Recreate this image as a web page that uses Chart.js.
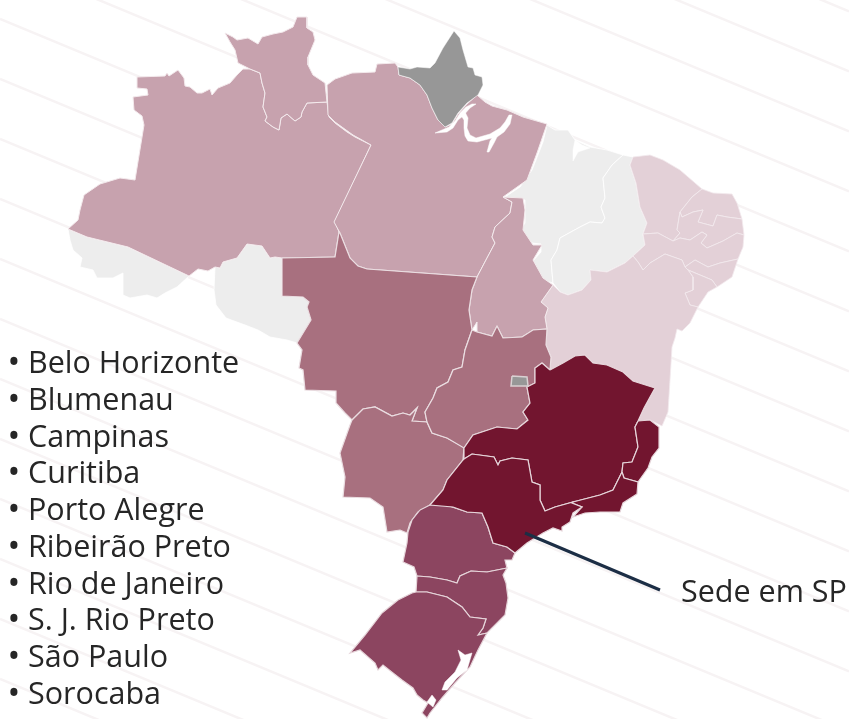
<!DOCTYPE html>
<html lang="pt-BR">
<head>
<meta charset="utf-8">
<title>Sede em SP</title>
<script src="https://cdn.jsdelivr.net/npm/chart.js@4"></script>
<style>
  html, body { margin: 0; padding: 0; background: #fff; }
  #wrap { position: relative; width: 849px; height: 719px; overflow: hidden; }
  #map { position: absolute; left: 0; top: 0; }
  #cities {
    position: absolute; left: 0; top: 343px; margin: 0; padding: 0 0 0 28px; list-style: none;
    font: 30.5px/36.75px "Open Sans", sans-serif; color: #262626;
  }
  #cities li { position: relative; white-space: nowrap; }
  #cities li::before { content: "•"; position: absolute; left: -20.5px; font-size: 34px; }
  #sede {
    position: absolute; left: 681px; top: 571px;
    font: 30.5px/38px "Open Sans", sans-serif; color: #262626; white-space: nowrap;
  }
</style>
</head>
<body>
<div id="wrap">
  <canvas id="map" width="849" height="719"></canvas>
  <ul id="cities"></ul>
  <div id="sede"></div>
</div>
<script>
// city list and callout
const cities = ['Belo Horizonte', 'Blumenau', 'Campinas', 'Curitiba', 'Porto Alegre',
  'Ribeirão Preto', 'Rio de Janeiro', 'S. J. Rio Preto', 'São Paulo', 'Sorocaba'];
const calloutLabel = 'Sede em SP';

// state outlines
const amazonas = [[137,77],[165,76],[167,73],[169,76],[178,70],[184,78],[185,86],[190,87],[197,93],[202,93],[210,89],[212,95],[218,88],[230,83],[237,75],[243,69],[250,69],[260,73],[262,83],[265,93],[263,107],[267,117],[265,121],[273,127],[279,130],[281,118],[287,114],[295,121],[301,117],[302,112],[307,103],[327,102],[329,117],[335,123],[347,132],[355,137],[371,145],[335,221],[339,232],[335,257],[282,258],[275,257],[270,258],[262,246],[247,244],[237,258],[223,262],[220,268],[215,267],[208,271],[198,269],[189,276],[128,247],[87,237],[68,229],[78,220],[80,210],[84,195],[100,184],[120,178],[135,180],[144,125],[142,116],[134,110],[133,97],[148,95],[147,89],[137,88]];
const roraima = [[225,33],[233,37],[237,40],[248,38],[258,44],[262,37],[273,34],[283,32],[293,27],[297,17],[307,17],[307,28],[313,32],[315,40],[308,57],[308,65],[313,75],[325,83],[327,102],[307,103],[302,112],[301,117],[295,121],[287,114],[281,118],[279,130],[273,127],[265,121],[267,117],[263,107],[265,93],[262,83],[260,73],[250,69],[238,63],[235,50],[230,42]];
const para = [[327,85],[335,79],[352,73],[375,72],[377,64],[395,63],[398,67],[399,75],[410,78],[420,85],[427,95],[432,108],[438,120],[445,127],[452,124],[458,114],[467,104],[477,95],[485,102],[492,106],[507,110],[523,117],[547,124],[537,153],[527,180],[503,197],[512,202],[510,213],[495,227],[492,237],[495,243],[487,258],[477,277],[367,269],[358,266],[350,258],[340,233],[334,222],[371,145],[353,135],[335,122],[328,115]];
const amapa = [[398,67],[410,69],[417,67],[430,68],[435,63],[443,48],[454,31],[460,38],[463,50],[468,67],[473,68],[475,75],[482,77],[483,85],[478,95],[467,103],[458,113],[452,123],[445,127],[438,120],[432,108],[427,95],[420,85],[410,78],[399,75]];
const tocantins = [[503,197],[523,198],[525,210],[523,230],[533,245],[542,245],[533,260],[543,278],[553,285],[541,302],[548,308],[545,317],[547,329],[533,330],[522,337],[503,338],[497,326],[492,336],[477,332],[477,322],[472,330],[469,310],[472,290],[477,277],[487,258],[495,243],[492,237],[495,227],[510,213],[512,202]];
const acre = [[68,229],[87,237],[128,247],[189,276],[177,287],[165,293],[157,298],[147,295],[130,298],[123,295],[123,273],[113,278],[97,278],[93,270],[80,267],[82,258],[73,250],[70,240]];
const rondonia = [[223,262],[237,258],[247,244],[262,246],[270,258],[275,257],[282,258],[282,296],[303,297],[309,302],[307,307],[311,320],[297,343],[287,340],[270,337],[258,330],[245,325],[226,318],[216,305],[214,290],[215,267],[220,268]];
const maranhao = [[547,125],[555,130],[568,130],[575,140],[590,147],[607,150],[623,155],[612,165],[603,178],[605,198],[601,207],[605,218],[602,223],[590,222],[580,227],[560,238],[557,250],[551,260],[553,283],[542,280],[538,272],[532,262],[541,252],[541,244],[532,243],[520,230],[525,223],[525,200],[505,197],[520,187],[532,170],[543,142]];
const piaui = [[623,155],[633,157],[630,165],[636,183],[640,207],[647,223],[643,234],[645,245],[633,256],[625,263],[607,272],[590,270],[591,280],[582,290],[568,295],[560,292],[553,283],[551,260],[557,250],[560,238],[580,227],[590,222],[602,223],[605,218],[601,207],[605,198],[603,178],[612,165]];
const ceara = [[633,157],[650,155],[663,160],[680,170],[702,189],[692,197],[680,212],[677,230],[680,233],[673,241],[658,233],[643,234],[647,223],[640,207],[636,183],[630,165]];
const rioGrandeNorte = [[702,189],[713,193],[732,194],[737,203],[742,219],[727,217],[717,215],[713,226],[698,222],[703,210],[693,212],[682,217],[680,212],[692,197]];
const paraiba = [[742,219],[744,235],[737,233],[723,241],[707,248],[701,243],[707,235],[702,232],[690,240],[680,238],[673,241],[680,233],[677,230],[680,212],[682,217],[693,212],[703,210],[698,222],[713,226],[717,215],[727,217]];
const pernambuco = [[643,234],[658,233],[673,241],[680,238],[690,240],[702,232],[707,235],[701,243],[707,248],[723,241],[737,233],[744,235],[743,247],[738,259],[720,263],[708,267],[695,260],[685,267],[682,260],[665,254],[650,263],[643,270],[638,262],[633,256],[645,245]];
const alagoas = [[738,259],[732,277],[717,287],[712,280],[688,270],[685,267],[695,260],[708,267],[720,263]];
const sergipe = [[717,287],[708,292],[698,307],[690,305],[685,293],[693,290],[693,277],[688,270],[712,280]];
const bahia = [[633,256],[638,262],[643,270],[650,263],[665,254],[682,260],[685,267],[688,270],[693,277],[693,290],[685,293],[690,305],[698,307],[690,323],[682,331],[677,329],[675,338],[672,347],[670,380],[668,412],[662,426],[650,420],[638,421],[644,408],[650,397],[655,388],[633,381],[623,372],[607,365],[593,363],[585,355],[575,356],[563,363],[550,370],[551,357],[546,345],[547,329],[545,317],[548,308],[541,302],[553,285],[560,292],[568,295],[582,290],[591,280],[590,270],[607,272],[625,263]];
const matoGrosso = [[282,258],[335,257],[339,232],[340,233],[350,258],[358,266],[367,269],[477,277],[472,290],[469,310],[472,330],[465,350],[462,367],[453,370],[448,382],[437,388],[433,398],[425,412],[427,422],[412,421],[417,408],[410,415],[403,413],[392,416],[375,407],[363,409],[352,420],[345,413],[336,403],[336,391],[305,390],[303,370],[299,368],[302,350],[297,343],[311,320],[307,307],[309,302],[303,297],[282,296]];
const matoGrossoSul = [[352,420],[363,409],[375,407],[392,416],[403,413],[410,415],[417,408],[412,421],[427,422],[432,433],[447,438],[464,447],[463,460],[447,480],[443,490],[430,505],[418,512],[410,523],[407,533],[400,530],[387,532],[383,507],[370,498],[343,497],[345,477],[340,453],[350,425]];
const goias = [[472,330],[477,332],[492,336],[497,326],[503,338],[522,337],[533,330],[547,329],[546,345],[551,357],[550,370],[542,363],[535,368],[535,383],[527,387],[530,403],[523,412],[528,420],[517,429],[497,427],[473,435],[464,448],[447,438],[432,433],[427,422],[425,412],[433,398],[437,388],[448,382],[453,370],[462,367],[465,350]];
const distritoFederal = [[512,376],[527,377],[528,386],[511,386]];
const minasGerais = [[550,370],[563,363],[575,356],[585,355],[593,363],[607,365],[623,372],[633,381],[655,388],[650,397],[644,408],[638,421],[635,427],[638,447],[632,462],[623,463],[622,472],[613,490],[600,495],[573,502],[555,507],[545,511],[540,500],[540,485],[532,482],[528,460],[512,458],[500,461],[498,465],[494,457],[472,454],[464,459],[464,448],[473,435],[497,427],[517,429],[528,420],[523,412],[530,403],[527,387],[535,383],[535,368],[542,363]];
const espiritoSanto = [[638,421],[650,420],[659,427],[659,448],[652,457],[648,468],[638,482],[624,478],[622,472],[623,463],[632,462],[638,447],[635,427]];
const rioDeJaneiro = [[622,472],[624,478],[638,482],[637,494],[623,503],[620,512],[600,512],[585,513],[573,517],[582,507],[572,503],[573,502],[600,495],[613,490]];
const saoPaulo = [[464,459],[472,454],[494,457],[498,465],[500,461],[512,458],[528,460],[532,482],[540,485],[540,500],[545,511],[555,507],[573,502],[572,503],[582,507],[573,513],[570,522],[562,527],[562,531],[553,528],[543,533],[527,543],[515,553],[507,547],[493,543],[488,527],[482,513],[467,512],[453,507],[430,505],[443,490],[447,480],[463,460]];
const parana = [[420,510],[430,505],[443,504],[467,512],[482,513],[488,527],[493,543],[507,547],[515,553],[512,560],[505,560],[507,568],[487,572],[471,571],[460,576],[457,583],[447,580],[430,577],[417,576],[414,567],[403,562],[407,543],[408,532],[412,520]];
const santaCatarina = [[417,576],[430,577],[447,580],[457,583],[460,576],[471,571],[487,572],[507,568],[503,575],[506,583],[508,598],[505,615],[500,620],[487,633],[478,635],[483,628],[486,619],[470,617],[462,607],[447,597],[427,592],[416,592]];
const rioGrandeSul = [[416,592],[427,592],[447,597],[462,607],[470,617],[486,619],[483,628],[478,635],[487,633],[478,650],[470,667],[455,683],[442,698],[430,713],[427,718],[422,713],[428,703],[423,700],[417,695],[413,688],[402,680],[393,673],[383,665],[378,670],[375,663],[360,650],[350,653],[365,635],[382,613],[398,600],[412,593]];

// water cut out of the land
const amazonSlit = [[435,133],[447,132],[453,128],[458,120],[463,116],[470,108],[476,104],[472,104],[466,107],[460,113],[455,121],[449,127],[442,130]];
const amazonChannel = [[460,114],[465,112],[468,118],[467,128],[470,135],[476,138],[490,134],[500,128],[505,122],[509,115],[512,115],[510,124],[504,132],[497,137],[494,143],[489,152],[487,152],[490,141],[492,138],[477,142],[468,141],[465,136],[464,128],[464,120]];
const saoMarcosBay = [[575,140],[582,145],[590,148],[578,152],[573,161],[573,150]];
const lagoaPatos = [[458,650],[465,655],[472,653],[467,670],[457,678],[447,690],[442,690],[445,682],[455,672],[461,660]];
const lagoaMirim = [[432,695],[436,700],[433,707],[427,702]];

// line from the map to the label
const calloutLine = [[525,533],[660,590]];
// background stripes: intercepts of y = slope * x + c
const stripeSlope = 0.415;
const stripeIntercepts = [-341,-281,-221,-161,-101,-41,19,79,139,199,259,319,379,439,499,559,619,679];

const noData = [acre, rondonia, maranhao, piaui];
const lightest = [ceara, rioGrandeNorte, paraiba, pernambuco, alagoas, sergipe, bahia];
const light = [amazonas, roraima, para, tocantins];
const medium = [matoGrosso, matoGrossoSul, goias];
const strong = [parana, santaCatarina, rioGrandeSul];
const strongest = [minasGerais, espiritoSanto, rioDeJaneiro, saoPaulo];
const excluded = [amapa];
const water = [amazonSlit, amazonChannel, saoMarcosBay, lagoaPatos, lagoaMirim];

function toPoints(path) {
  return path.concat([path[0]]).map(([x, y]) => ({ x, y }));
}

function area(path, color, borderColor, borderWidth) {
  return {
    data: toPoints(path),
    showLine: true,
    fill: 'shape',
    backgroundColor: color,
    borderColor: borderColor,
    borderWidth: borderWidth,
    pointRadius: 0,
    tension: 0,
  };
}

const datasets = [];
stripeIntercepts.forEach((c) => {
  datasets.push({
    data: [{ x: 0, y: c }, { x: 849, y: stripeSlope * 849 + c }],
    showLine: true,
    borderColor: '#f7f3f4',
    borderWidth: 2.5,
    pointRadius: 0,
  });
});
noData.forEach((s) => datasets.push(area(s, '#ededed', '#ffffff', 0.8)));
lightest.forEach((s) => datasets.push(area(s, '#e3d0d7', '#f3eaed', 0.8)));
light.forEach((s) => datasets.push(area(s, '#c7a2ae', '#f3e9ec', 1)));
medium.forEach((s) => datasets.push(area(s, '#a8707f', '#eadde1', 1.2)));
strong.forEach((s) => datasets.push(area(s, '#8c4560', '#e6d5da', 1.2)));
strongest.forEach((s) => datasets.push(area(s, '#72152f', '#e6d5da', 1.2)));
excluded.forEach((s) => datasets.push(area(s, '#979797', '#ffffff', 0.5)));
datasets.push(area(distritoFederal, '#979797', '#d9d0d2', 1.5));
water.forEach((s) => datasets.push(area(s, '#ffffff', '#ffffff', 0.5)));
datasets.push({
  data: calloutLine.map(([x, y]) => ({ x, y })),
  showLine: true,
  borderColor: '#1c2e45',
  borderWidth: 3,
  pointRadius: 0,
});
// chart.js paints high order first, so keep the list order as paint order
datasets.forEach((d, i) => { d.order = datasets.length - i; });

new Chart(document.getElementById('map'), {
  type: 'scatter',
  data: { datasets },
  options: {
    responsive: false,
    animation: false,
    events: [],
    layout: { padding: 0 },
    plugins: { legend: { display: false }, tooltip: { enabled: false } },
    scales: {
      x: { display: false, min: 0, max: 849 },
      y: { display: false, min: 0, max: 719, reverse: true },
    },
  },
});

document.getElementById('cities').innerHTML = cities.map((c) => `<li>${c}</li>`).join('');
document.getElementById('sede').textContent = calloutLabel;
</script>
</body>
</html>
